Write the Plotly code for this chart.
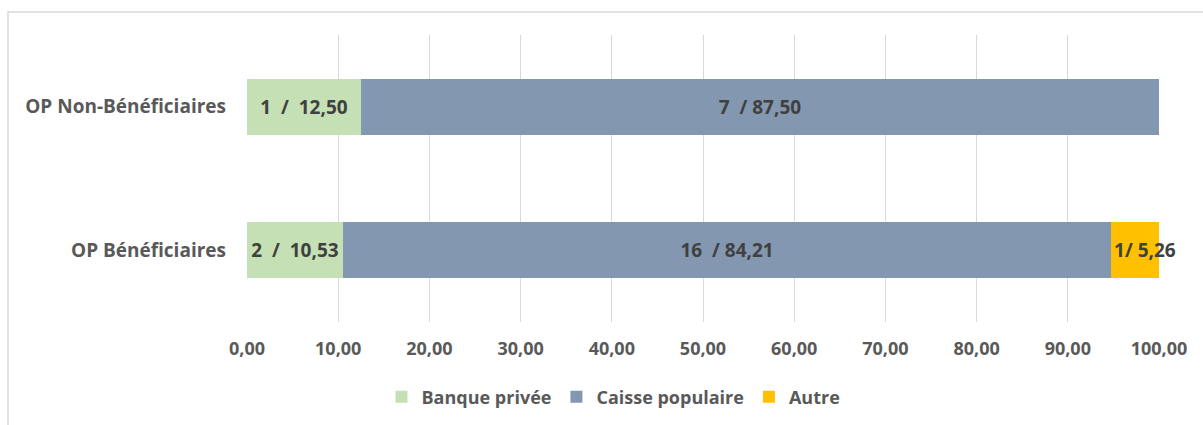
import plotly.graph_objects as go

# Categories (bottom to top) and the three funding sources
categories = ["OP Bénéficiaires", "OP Non-Bénéficiaires"]
series_names = ["Banque privée", "Caisse populaire", "Autre"]

# Number of organisations per source
counts_banque = [2, 1]
counts_caisse = [16, 7]
counts_autre = [1, 0]

# Share of organisations (%)
pct_banque = [10.53, 12.50]
pct_caisse = [84.21, 87.50]
pct_autre = [5.26, 0.0]

tick_values = [0, 10, 20, 30, 40, 50, 60, 70, 80, 90, 100]

colors = ["#C5E0B4", "#8497B0", "#FFC000"]
separators = ["  /  ", "  / ", "/ "]
anchors = ["middle", "middle", "start"]
text_color = "#595959"
font_family = "Open Sans, Lato, Arial, sans-serif"


def fr(v):
    return f"{v:.2f}".replace(".", ",")


def labels(counts, pcts, sep):
    return [f"{c}{sep}{fr(p)}" if p > 0 else "" for c, p in zip(counts, pcts)]


fig = go.Figure()
for name, counts, pcts, color, sep, anchor in zip(
    series_names,
    [counts_banque, counts_caisse, counts_autre],
    [pct_banque, pct_caisse, pct_autre],
    colors,
    separators,
    anchors,
):
    fig.add_trace(
        go.Bar(
            y=categories,
            x=pcts,
            name=name,
            orientation="h",
            marker=dict(color=color, line=dict(width=0)),
            text=labels(counts, pcts, sep),
            textposition="inside",
            insidetextanchor=anchor,
            textangle=0,
            constraintext="none",
            cliponaxis=False,
            textfont=dict(family=font_family, size=19, color="#404040", weight="bold"),
            hoverinfo="skip",
        )
    )

L, R, T, B = 247, 44, 35, 103
W, H = 1203, 425
pw, ph = W - L - R, H - T - B

fig.update_layout(
    barmode="stack",
    bargap=0.61,
    width=W,
    height=H,
    margin=dict(l=L, r=R, t=T, b=B),
    plot_bgcolor="white",
    paper_bgcolor="white",
    font=dict(family=font_family, color=text_color),
    showlegend=True,
    legend=dict(
        orientation="h",
        xref="container",
        yref="container",
        x=0.51,
        xanchor="center",
        y=1 - 397 / H,
        yanchor="middle",
        font=dict(size=18, color=text_color, weight="bold"),
        itemwidth=30,
        tracegroupgap=0,
        traceorder="normal",
    ),
    xaxis=dict(
        range=[0, 100],
        tickvals=tick_values,
        ticktext=[fr(v) for v in tick_values],
        showgrid=True,
        gridcolor="#D9D9D9",
        gridwidth=1,
        zeroline=False,
        showline=False,
        ticks="",
        ticklabelstandoff=14,
        tickfont=dict(size=18, color=text_color, weight="bold"),
    ),
    yaxis=dict(
        showgrid=False,
        zeroline=False,
        showline=False,
        ticks="",
        ticklabelstandoff=20,
        tickfont=dict(size=19, color=text_color, weight="bold"),
    ),
    shapes=[
        dict(
            type="rect",
            xref="paper",
            yref="paper",
            x0=(8 - L) / pw,
            x1=1 + (R + 20) / pw,
            y0=-(B + 10) / ph,
            y1=1 + (T - 12) / ph,
            line=dict(color="#D9D9D9", width=1.5),
            layer="below",
        )
    ],
)

fig.write_html("out.html")
